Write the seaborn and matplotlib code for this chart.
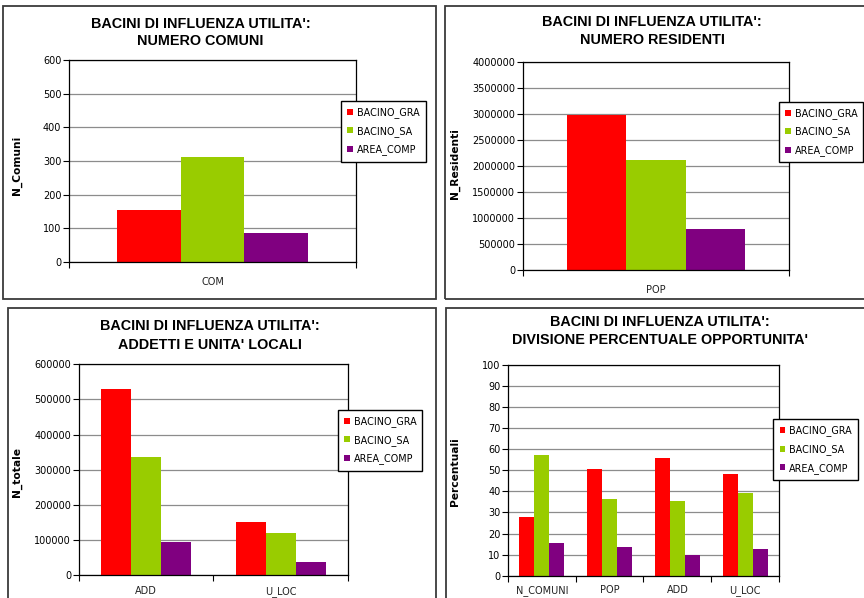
import matplotlib
matplotlib.use("Agg")
import matplotlib.pyplot as plt
from matplotlib.patches import Patch, Rectangle
from matplotlib.ticker import FixedLocator
import pandas as pd
import seaborn as sns

# ---- data -------------------------------------------------------------
series = ["BACINO_GRA", "BACINO_SA", "AREA_COMP"]
colors = ["#FF0000", "#99CC00", "#800080"]

comuni_cats = ["COM"]
comuni_vals = {"BACINO_GRA": [154], "BACINO_SA": [313], "AREA_COMP": [85]}
comuni_ticks = [0, 100, 200, 300, 400, 500, 600]

resid_cats = ["POP"]
resid_vals = {"BACINO_GRA": [2980000], "BACINO_SA": [2115000], "AREA_COMP": [780000]}
resid_ticks = [0, 500000, 1000000, 1500000, 2000000, 2500000, 3000000, 3500000, 4000000]

addetti_cats = ["ADD", "U_LOC"]
addetti_vals = {"BACINO_GRA": [529000, 151000],
                "BACINO_SA": [337000, 120000],
                "AREA_COMP": [94000, 37000]}
addetti_ticks = [0, 100000, 200000, 300000, 400000, 500000, 600000]

perc_cats = ["N_COMUNI", "POP", "ADD", "U_LOC"]
perc_vals = {"BACINO_GRA": [27.9, 50.8, 55.7, 48.3],
             "BACINO_SA": [57.3, 36.4, 35.5, 39.4],
             "AREA_COMP": [15.4, 13.5, 9.8, 12.5]}
perc_ticks = [0, 10, 20, 30, 40, 50, 60, 70, 80, 90, 100]

# ---- figure -------------------------------------------------------------
W, H = 864, 598
fig = plt.figure(figsize=(W / 100, H / 100), dpi=100)
fig.patch.set_facecolor("white")

TITLE_FONT = dict(family=["Liberation Sans", "DejaVu Sans"], weight="bold", size=10.4)
SMALL = ["DejaVu Sans"]


def px_rect(l, t, r, b):
    return [l / W, 1 - b / H, (r - l) / W, (b - t) / H]


def frame(l, t, r, b):
    fig.patches.append(Rectangle((l / W, 1 - b / H), (r - l) / W, (b - t) / H,
                                 transform=fig.transFigure, fill=False,
                                 edgecolor="#3a3a3a", linewidth=1.3, zorder=0))


def panel(rect, cats, vals, ticks, ylabel, title, title_x, title_y,
          ylabel_xy, legend_xy, xpad):
    ax = fig.add_axes(px_rect(*rect))
    df = pd.DataFrame([(c, s, vals[s][i]) for s in series for i, c in enumerate(cats)],
                      columns=["cat", "serie", "val"])
    sns.barplot(data=df, x="cat", y="val", hue="serie", hue_order=series,
                order=cats, palette=colors, saturation=1, width=2 / 3, gap=0,
                errorbar=None, legend=False, linewidth=0, ax=ax)
    n = len(cats)
    ax.set_xlim(-0.5, n - 0.5)
    ax.set_ylim(ticks[0], ticks[-1])
    ax.set_yticks(ticks)
    ax.set_yticklabels([str(t) for t in ticks], family=SMALL, fontsize=7)
    ax.set_xticks(range(n))
    ax.set_xticklabels(cats, family=SMALL, fontsize=7, color="#222222")
    ax.xaxis.set_minor_locator(FixedLocator([i - 0.5 for i in range(n + 1)]))
    ax.tick_params(axis="x", which="major", length=0, pad=xpad)
    ax.tick_params(axis="x", which="minor", length=4, width=0.8, direction="out")
    ax.tick_params(axis="y", length=4, width=0.8, pad=1.5)
    ax.set_xlabel("")
    ax.set_ylabel("")
    ax.grid(axis="y", color="#8c8c8c", linewidth=0.9)
    ax.set_axisbelow(True)
    for sp in ax.spines.values():
        sp.set_color("black")
        sp.set_linewidth(0.9)

    fig.text(title_x / W, 1 - title_y[0] / H, title[0], ha="center", va="center",
             **TITLE_FONT)
    fig.text(title_x / W, 1 - title_y[1] / H, title[1], ha="center", va="center",
             **TITLE_FONT)
    fig.text(ylabel_xy[0] / W, 1 - ylabel_xy[1] / H, ylabel, rotation=90,
             ha="center", va="center", family=SMALL, weight="bold", fontsize=7.7)

    handles = [Patch(facecolor=c, edgecolor="none", label=s)
               for s, c in zip(series, colors)]
    leg = fig.legend(handles=handles, loc="upper left",
                     bbox_to_anchor=(legend_xy[0] / W, 1 - legend_xy[1] / H),
                     bbox_transform=fig.transFigure, borderaxespad=0,
                     prop=dict(family=SMALL, size=6.9), frameon=True,
                     fancybox=False, edgecolor="black", framealpha=1,
                     handlelength=0.6, handleheight=0.6, handletextpad=0.4,
                     labelspacing=0.8, borderpad=0.65)
    leg.get_frame().set_linewidth(1.0)
    return ax


frame(3, 6, 436, 299)
frame(445, 6, 900, 299)
frame(8, 308, 436, 640)
frame(446, 308, 900, 640)

panel((69, 60, 356, 262), comuni_cats, comuni_vals, comuni_ticks, "N_Comuni",
      ("BACINI DI INFLUENZA UTILITA':", "NUMERO COMUNI"), 200.5, (23.8, 41.3),
      (16.7, 165), (341, 101), 11)

panel((522.7, 62, 789.3, 270), resid_cats, resid_vals, resid_ticks, "N_Residenti",
      ("BACINI DI INFLUENZA UTILITA':", "NUMERO RESIDENTI"), 652.3, (22.5, 39.5),
      (455.3, 164), (778.7, 101.7), 10.5)

panel((78.7, 364.3, 348, 575.3), addetti_cats, addetti_vals, addetti_ticks, "N_totale",
      ("BACINI DI INFLUENZA UTILITA':", "ADDETTI E UNITA' LOCALI"), 209.7, (325.8, 345),
      (16.7, 472), (337.7, 410), 8)

panel((508, 365, 779, 575.7), perc_cats, perc_vals, perc_ticks, "Percentuali",
      ("BACINI DI INFLUENZA UTILITA':", "DIVISIONE PERCENTUALE OPPORTUNITA'"), 659.5,
      (321.7, 340), (455.3, 472), (773.3, 419.3), 7)

fig.savefig("out.png", dpi=100)
